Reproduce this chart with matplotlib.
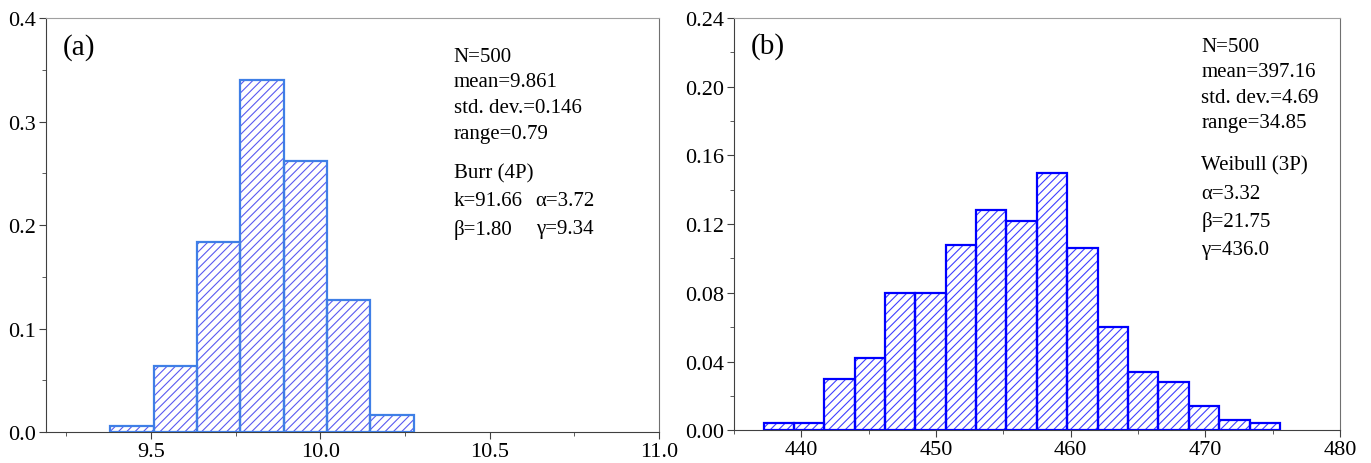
import matplotlib
matplotlib.use("Agg")
import matplotlib.pyplot as plt
import numpy as np
from matplotlib.ticker import MultipleLocator, FormatStrFormatter

plt.rcParams['font.family'] = ['Liberation Serif', 'DejaVu Serif']
plt.rcParams['hatch.linewidth'] = 0.8

# panel (a) histogram
edges_a = [9.380, 9.508, 9.637, 9.764, 9.892, 10.021, 10.148, 10.276]
freq_a = [0.006, 0.064, 0.184, 0.340, 0.262, 0.128, 0.016]
stats_a = ["N=500", "mean=9.861", "std. dev.=0.146", "range=0.79"]
fit_a = "Burr (4P)"
params_a = [("k=91.66", "\u03b1=3.72"), ("\u03b2=1.80", "\u03b3=9.34")]

# panel (b) histogram
edges_b = [437.22, 439.44, 441.70, 443.95, 446.21, 448.46, 450.72, 452.97, 455.23,
           457.48, 459.74, 462.00, 464.25, 466.50, 468.76, 471.04, 473.30, 475.55]
freq_b = [0.004, 0.004, 0.030, 0.042, 0.080, 0.080, 0.108, 0.128, 0.122, 0.150,
          0.106, 0.060, 0.034, 0.028, 0.014, 0.006, 0.004]
stats_b = ["N=500", "mean=397.16", "std. dev.=4.69", "range=34.85"]
fit_b = "Weibull (3P)"
params_b = ["\u03b1=3.32", "\u03b2=21.75", "\u03b3=436.0"]

fig = plt.figure(figsize=(13.71, 4.64), dpi=100)
ax1 = fig.add_axes([0.0336, 0.0668, 0.447, 0.892])
ax2 = fig.add_axes([0.5354, 0.0705, 0.442, 0.8886])


def draw_hist(ax, edges, freq, edge_col, hatch_col):
    e = np.array(edges)
    w = np.diff(e)
    ax.bar(e[:-1], freq, width=w, align='edge', facecolor='white',
           edgecolor=hatch_col, hatch='////', linewidth=0, zorder=2)
    ax.bar(e[:-1], freq, width=w, align='edge', fill=False,
           edgecolor=edge_col, linewidth=1.6, zorder=3)


def style(ax):
    ax.spines['left'].set_color('#404040')
    ax.spines['bottom'].set_color('#404040')
    ax.spines['right'].set_color('#707070')
    ax.spines['top'].set_color('#a0a0a0')
    ax.tick_params(axis='both', which='major', direction='out', length=5,
                   labelsize=16, right=False, top=False, pad=2, color='#404040')
    ax.tick_params(axis='both', which='minor', direction='out', length=3,
                   right=False, top=False, color='#404040')


draw_hist(ax1, edges_a, freq_a, '#3f7fe6', '#5a5af0')
ax1.set_xlim(9.19, 11.0)
ax1.set_ylim(0, 0.4)
ax1.xaxis.set_major_locator(MultipleLocator(0.5))
ax1.xaxis.set_minor_locator(MultipleLocator(0.25))
ax1.yaxis.set_major_locator(MultipleLocator(0.1))
ax1.yaxis.set_minor_locator(MultipleLocator(0.05))
ax1.xaxis.set_major_formatter(FormatStrFormatter('%.1f'))
ax1.yaxis.set_major_formatter(FormatStrFormatter('%.1f'))
style(ax1)

draw_hist(ax2, edges_b, freq_b, '#0000ff', '#4040ff')
ax2.set_xlim(435, 480)
ax2.set_ylim(0, 0.24)
ax2.xaxis.set_major_locator(MultipleLocator(10))
ax2.xaxis.set_minor_locator(MultipleLocator(5))
ax2.yaxis.set_major_locator(MultipleLocator(0.04))
ax2.yaxis.set_minor_locator(MultipleLocator(0.02))
ax2.yaxis.set_major_formatter(FormatStrFormatter('%.2f'))
style(ax2)

# panel labels
ax1.text(0.027, 0.932, "(a)", transform=ax1.transAxes, fontsize=21, va='center')
ax2.text(0.028, 0.932, "(b)", transform=ax2.transAxes, fontsize=21, va='center')

fs = 15
# annotations (a)
ys = [0.908, 0.846, 0.785, 0.722]
for y, t in zip(ys, stats_a):
    ax1.text(0.665, y, t, transform=ax1.transAxes, fontsize=fs, va='center')
ax1.text(0.665, 0.626, fit_a, transform=ax1.transAxes, fontsize=fs, va='center')
for y, (c1, c2) in zip([0.560, 0.491], params_a):
    ax1.text(0.665, y, c1, transform=ax1.transAxes, fontsize=fs, va='center')
    ax1.text(0.799, y, c2, transform=ax1.transAxes, fontsize=fs, va='center')

# annotations (b)
ys = [0.932, 0.871, 0.808, 0.747]
for y, t in zip(ys, stats_b):
    ax2.text(0.771, y, t, transform=ax2.transAxes, fontsize=fs, va='center')
ax2.text(0.771, 0.643, fit_b, transform=ax2.transAxes, fontsize=fs, va='center')
for y, t in zip([0.575, 0.507, 0.439], params_b):
    ax2.text(0.771, y, t, transform=ax2.transAxes, fontsize=fs, va='center')

fig.savefig("out.png", dpi=100)
